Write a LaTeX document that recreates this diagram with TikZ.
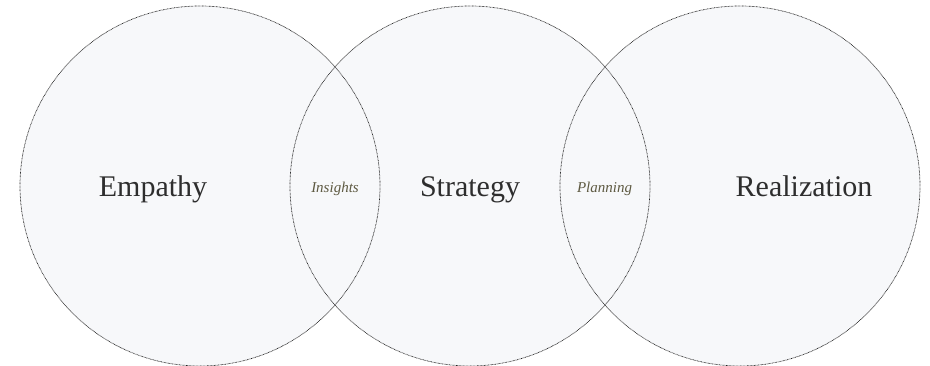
\documentclass[tikz,border=0pt]{standalone}
\usepackage{fontspec}
\setmainfont{Liberation Serif}
\definecolor{ringfill}{HTML}{F7F8FA}
\definecolor{ringline}{HTML}{202020}
\definecolor{maintext}{HTML}{2E2E2E}
\definecolor{overlaptext}{HTML}{5E5A42}
\tikzset{
  ring/.style={draw=ringline,line width=0.7pt,dash pattern=on 0.7pt off 0.7pt},
  phase/.style={anchor=base,text=maintext,font=\fontsize{30}{36}\selectfont},
  overlap/.style={anchor=base,text=overlaptext,font=\fontsize{15}{18}\selectfont\itshape}
}
\begin{document}
\begin{tikzpicture}[x=1pt,y=1pt]
\useasboundingbox (0,0) rectangle (930,366);
\coordinate[] (E) at (200,180);
\coordinate[] (S) at (470,180);
\coordinate[] (R) at (740,180);
\foreach \p in {E,S,R}
	\fill[ringfill] (\p) circle (180);
\foreach \p in {E,S,R}
	\draw[ring] (\p) circle (180);
\node[phase] (empathy) at (153,169) {Empathy};
\node[phase] (strategy) at (470,169) {Strategy};
\node[phase] (realization) at (804,169) {Realization};
\node[overlap] (insights) at (335,173) {Insights};
\node[overlap] (planning) at (604.5,173) {Planning};
\end{tikzpicture}
\end{document}
